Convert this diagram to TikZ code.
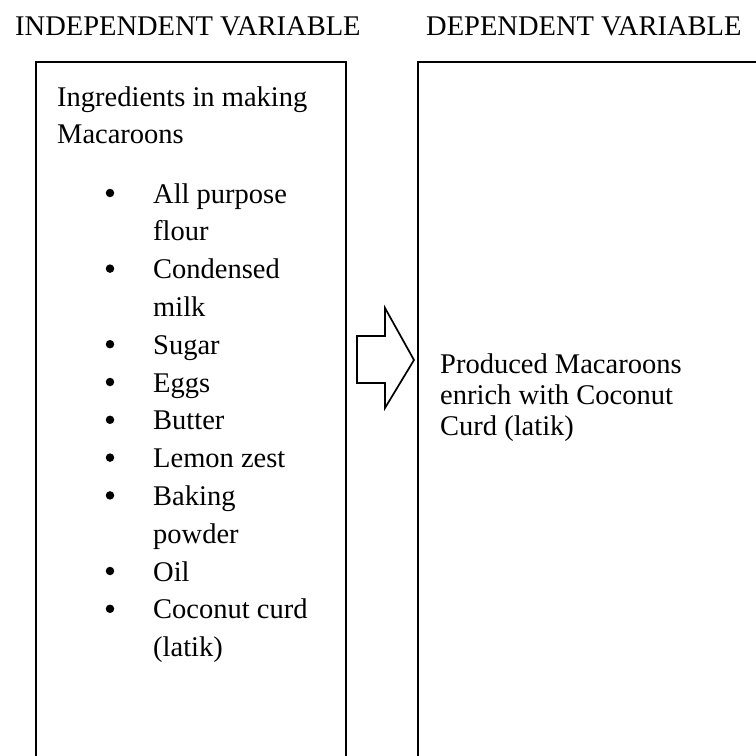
\documentclass[tikz,border=0pt]{standalone}
\usepackage{fontspec}
\setmainfont{Liberation Serif}
\begin{document}
\begin{tikzpicture}[x=1pt,y=-1pt,
  txt/.style={anchor=base west,inner sep=0pt,font=\fontsize{28.5}{34}\selectfont},
  bul/.style={circle,fill=black,inner sep=0pt,minimum size=8.5pt},
  boxline/.style={draw=black,line width=2.1pt},
  arrowline/.style={draw=black,line width=1.7pt,line join=miter,fill=white}]
\useasboundingbox (0,0) rectangle (756,756);
% headings
\node[txt] (indep) at (15,35) {INDEPENDENT VARIABLE};
\node[txt] (dep) at (426,35) {DEPENDENT VARIABLE};
% boxes (run past the bottom/right edge)
\draw[boxline] (36,790) -- (36,62) -- (346,62) -- (346,790);
\draw[boxline] (418,790) -- (418,62) -- (790,62);
% block arrow
\draw[arrowline] (357,336) -- (385,336) -- (385,308) -- (414,360) -- (385,408) -- (385,383) -- (357,383) -- cycle;
% left box text
\node[txt] (ing1) at (57,106) {Ingredients in making};
\node[txt] (ing2) at (57,143) {Macaroons};
\foreach \y/\t/\b [count=\i] in {203/All purpose/1, 240.8/flour/0, 278.6/Condensed/1, 316.4/milk/0, 354.2/Sugar/1, 392/Eggs/1, 429.8/Butter/1, 467.6/Lemon zest/1, 505.4/Baking/1, 543.2/powder/0, 581/Oil/1, 618.8/Coconut curd/1, 656.6/(latik)/0}{
  \node[txt] (item\i) at (153,\y) {\t};
  \ifnum\b=1 \node[bul] (bullet\i) at (110,\y-10) {};\fi
}
% right box text
\node[txt] (res1) at (440,373) {Produced Macaroons};
\node[txt] (res2) at (440,404) {enrich with Coconut};
\node[txt] (res3) at (440,435) {Curd (latik)};
\end{tikzpicture}
\end{document}
